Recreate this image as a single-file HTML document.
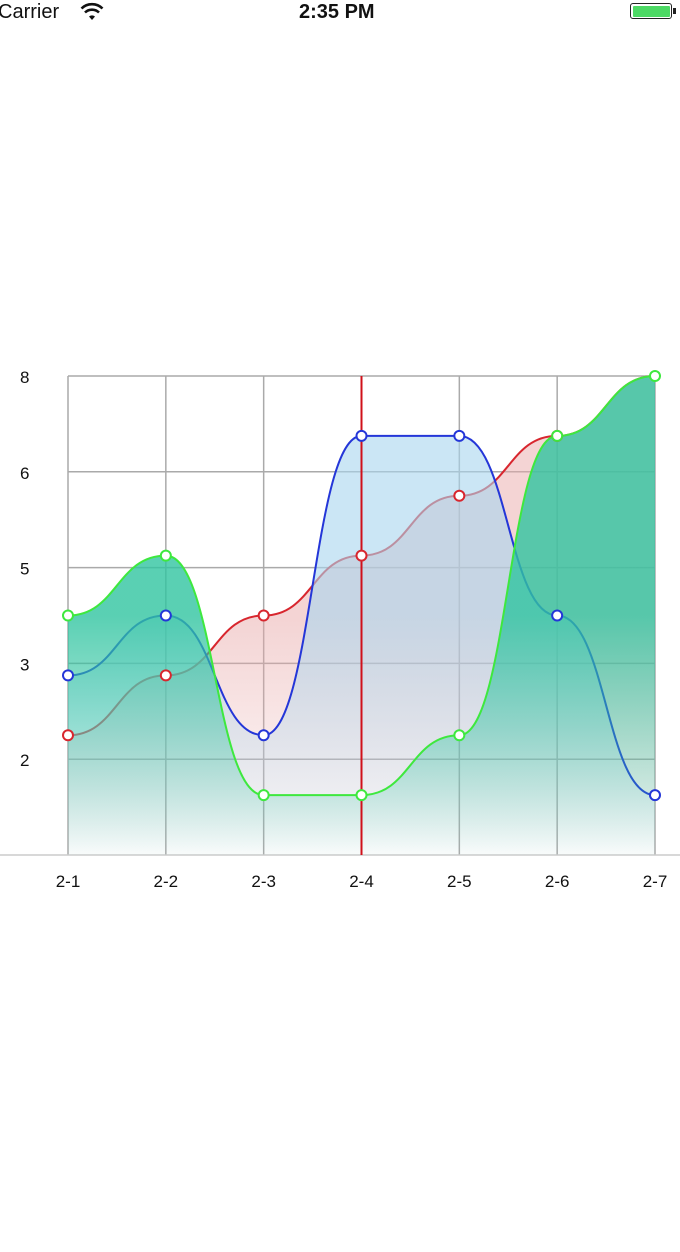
<!DOCTYPE html>
<html><head><meta charset="utf-8"><style>
body{margin:0;width:680px;height:1252px;background:#fff;overflow:hidden;font-family:"Liberation Sans",sans-serif}
.sb{position:absolute;top:0;left:0;width:680px;height:26px}
</style></head><body>
<div class="sb">
<span style="position:absolute;left:-2px;top:1px;font-size:20px;color:#111">Carrier</span>
<svg style="position:absolute;left:80px;top:2px" width="24" height="20" viewBox="0 0 24 20"><path d="M12 18 L9 14.5 A5 5 0 0 1 15 14.5Z" fill="#111"/><path d="M5 10.5 A10 10 0 0 1 19 10.5" stroke="#111" stroke-width="2.6" fill="none"/><path d="M1.5 6.5 A15 15 0 0 1 22.5 6.5" stroke="#111" stroke-width="2.6" fill="none"/></svg>
<span style="position:absolute;left:299px;top:1px;font-size:20px;font-weight:bold;color:#111">2:35 PM</span>
<div style="position:absolute;left:630px;top:3px;width:42px;height:16px;border:1.5px solid #222;border-radius:3px;box-sizing:border-box;padding:1.5px"><div style="width:100%;height:100%;background:#4cd964;border-radius:1px"></div></div>
<div style="position:absolute;left:673px;top:8px;width:3px;height:6px;background:#222"></div>
</div>
<svg id="chart" style="position:absolute;left:0;top:0" width="680" height="1252"></svg>
<script>
const categories=["2-1","2-2","2-3","2-4","2-5","2-6","2-7"];
const redValues=[2,3,4,5,6,7,8];
const blueValues=[3,4,2,7,7,4,1];
const greenValues=[4,5,1,1,2,7,8];
const yTicks=[8,6.4,4.8,3.2,1.6];
const yTickLabels=["8","6","5","3","2"];
const highlightIndex=3;
const NS="http://www.w3.org/2000/svg";
const svg=document.getElementById('chart');
const X0=68,X1=655,Y0=855,Y1=376,YMAX=8;
const x=i=>X0+i*(X1-X0)/(categories.length-1);
const y=v=>Y0-v*(Y0-Y1)/YMAX;
function mk(t,a,p){const e=document.createElementNS(NS,t);for(const k in a)e.setAttribute(k,a[k]);(p||svg).appendChild(e);return e;}
const defs=mk('defs',{});
function grad(id,c,op){const g=mk('linearGradient',{id:id,x1:0,y1:Y1,x2:0,y2:Y0,gradientUnits:'userSpaceOnUse'},defs);
mk('stop',{offset:'0',  'stop-color':c,'stop-opacity':op},g);mk('stop',{offset:'0.5','stop-color':c,'stop-opacity':op},g);mk('stop',{offset:'1','stop-color':c,'stop-opacity':0.02},g);}
grad('gr','#e8a8a8',0.5);grad('gb','#a8d6ee',0.6);grad('gg','#30c4a0',0.8);
// grid
const grid=mk('g',{});
yTicks.forEach((t,i)=>{
 const l=mk('line',{x1:X0,x2:X1,y1:y(t),y2:y(t),stroke:'#aaa','stroke-width':1.5},grid);
 
 const tx=mk('text',{x:20,y:y(t)+7,'font-size':17,fill:'#111'});tx.textContent=yTickLabels[i];
 
});
categories.forEach((c,i)=>{
 const l=mk('line',{x1:x(i),x2:x(i),y1:Y1,y2:Y0,stroke:'#aaa','stroke-width':1.5},grid);
 
 const tx=mk('text',{x:x(i),y:Y0+32,'font-size':17,fill:'#111','text-anchor':'middle'});tx.textContent=c;
 
});
const ax=mk('line',{x1:0,x2:680,y1:Y0,y2:Y0,stroke:'#ccc','stroke-width':1.5});

function pathD(vals){let d='M'+x(0)+','+y(vals[0]);for(let i=1;i<vals.length;i++){const xa=x(i-1),xb=x(i),m=(xb-xa)/2;d+=' C'+(xa+m)+','+y(vals[i-1])+' '+(xb-m)+','+y(vals[i])+' '+xb+','+y(vals[i]);}return d;}
function series(vals,color,gid,name){
 const g=mk('g',{});
 const d=pathD(vals);
 const f=mk('path',{d:d+' L'+x(vals.length-1)+','+Y0+' L'+x(0)+','+Y0+'Z',fill:'url(#'+gid+')'},g);
 
 const l=mk('path',{d:d,fill:'none',stroke:color,'stroke-width':2},g);
 
 return g;}
function dots(vals,color,name){vals.forEach((v,i)=>{const c=mk('circle',{cx:x(i),cy:y(v),r:5,fill:'#fff',stroke:color,'stroke-width':2});
 });}
series(redValues,'#d8262e','gr','red-series');
series(blueValues,'#2436d8','gb','blue-series');
series(greenValues,'#3ee83e','gg','green-series');
const hl=mk('line',{x1:x(highlightIndex),x2:x(highlightIndex),y1:Y1,y2:Y0,stroke:'#d0101a','stroke-width':2});

dots(redValues.slice(0,6),'#d8262e','red');
dots(blueValues,'#2436d8','blue');
dots(greenValues,'#3ee83e','green');
</script>
</body></html>
